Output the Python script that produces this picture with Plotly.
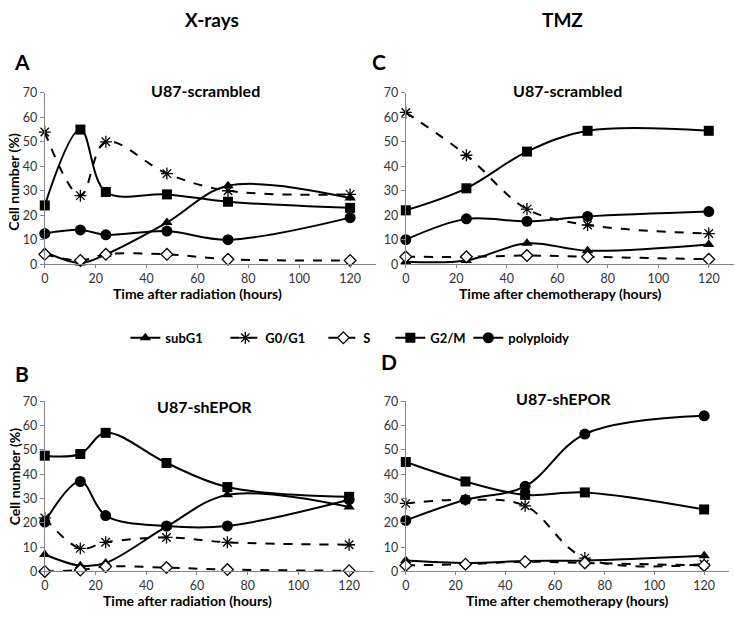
import plotly.graph_objects as go

# ---------------- data ----------------
series_names = ["subG1", "G0/G1", "S", "G2/M", "polyploidy"]

xray_hours = [0, 14, 24, 48, 72, 120]
tmz_hours = [0, 24, 48, 72, 120]

# Panel A: X-rays, U87-scrambled
a_subG1 = [5, 0.5, 4, 17, 32, 27]
a_G0G1 = [54, 28, 50, 37, 30, 28.5]
a_S = [4, 1.5, 4, 4, 2, 1.5]
a_G2M = [24, 55, 29.5, 28.5, 25.5, 23]
a_poly = [12.5, 14, 12, 13.5, 10, 19]

# Panel B: X-rays, U87-shEPOR
b_subG1 = [7, 2.4, 3.5, 18.4, 31.5, 26.5]
b_G0G1 = [22, 9.5, 12, 14, 12, 11]
b_S = [0, 0.6, 2, 1.6, 0.8, 0.3]
b_G2M = [47.6, 48.3, 57, 44.6, 34.7, 30.7]
b_poly = [20.3, 37, 23, 18.7, 18.7, 29.5]

# Panel C: TMZ, U87-scrambled
c_subG1 = [1, 1.5, 8.5, 5.5, 8]
c_G0G1 = [62, 44.5, 22.5, 16, 12.5]
c_S = [3, 3, 3.5, 3, 2]
c_G2M = [22, 31, 46, 54.5, 54.5]
c_poly = [10, 18.5, 17.5, 19.5, 21.5]

# Panel D: TMZ, U87-shEPOR
d_subG1 = [4.5, 3.5, 4.3, 4.5, 6.5]
d_G0G1 = [28, 29.5, 27, 5.5, 3]
d_S = [2.5, 3, 4, 3.5, 2.5]
d_G2M = [45, 37, 31.5, 32.5, 25.5]
d_poly = [21, 29.5, 35, 56.5, 64]

y_ticks = [0, 10, 20, 30, 40, 50, 60, 70]
x_ticks = [0, 20, 40, 60, 80, 100, 120]

# ---------------- styles ----------------
styles = {
    "subG1": dict(symbol="triangle-up", dash="solid", size=10, lw=55),
    "G0/G1": dict(symbol="asterisk-open", dash="dash", size=10, lw=53),
    "S": dict(symbol="diamond-open", dash="dash", size=9, lw=22),
    "G2/M": dict(symbol="square", dash="solid", size=10, lw=33),
    "polyploidy": dict(symbol="circle", dash="solid", size=11, lw=72),
}

FONT = "Lato, 'Open Sans', sans-serif"
W, H = 735, 618

def px(x):
    return x / W

def py(y):
    return 1 - y / H

fig = go.Figure()

panels = [
    ("x", "y", xray_hours, [a_subG1, a_G0G1, a_S, a_G2M, a_poly], True),
    ("x2", "y2", tmz_hours, [c_subG1, c_G0G1, c_S, c_G2M, c_poly], False),
    ("x3", "y3", xray_hours, [b_subG1, b_G0G1, b_S, b_G2M, b_poly], False),
    ("x4", "y4", tmz_hours, [d_subG1, d_G0G1, d_S, d_G2M, d_poly], False),
]

for xa, ya, hours, vals, show in panels:
    for name, v in zip(series_names, vals):
        st = styles[name]
        if st["symbol"] == "diamond-open":
            marker = dict(symbol="diamond", size=st["size"], color="white",
                          line=dict(color="black", width=1.3))
        elif st["symbol"] == "asterisk-open":
            marker = dict(symbol="asterisk-open", size=st["size"], color="black",
                          line=dict(color="black", width=1.3))
        else:
            marker = dict(symbol=st["symbol"], size=st["size"], color="black",
                          line=dict(color="black", width=0))
        fig.add_trace(go.Scatter(
            x=hours, y=v, name=name, xaxis=xa, yaxis=ya,
            mode="lines+markers",
            line=dict(color="black", width=2, dash=st["dash"], shape="spline", smoothing=1),
            marker=marker, cliponaxis=False,
            showlegend=show, legendwidth=st["lw"],
        ))

def xaxis(domain, anchor):
    return dict(domain=domain, anchor=anchor, range=[0, 130], tickvals=x_ticks,
                showgrid=False, zeroline=False, showline=True, linecolor="#868686",
                linewidth=1, ticks="outside", ticklen=3, tickcolor="#868686",
                tickfont=dict(family=FONT, size=12.5, color="#333"))

def yaxis(domain, anchor):
    return dict(domain=domain, anchor=anchor, range=[0, 70], tickvals=y_ticks,
                showgrid=False, zeroline=False, showline=True, linecolor="#868686",
                linewidth=1, ticks="outside", ticklen=4, tickcolor="#868686",
                tickfont=dict(family=FONT, size=12.5, color="#333"))

top_y = [1 - 262.5 / H, 1 - 87 / H]
bot_y = [1 - 577.5 / H, 1 - 403 / H]

fig.update_layout(
    width=W, height=H,
    margin=dict(l=0, r=0, t=0, b=0),
    paper_bgcolor="white", plot_bgcolor="white",
    xaxis=xaxis([41 / W, 373.6 / W], "y"),
    yaxis=yaxis(top_y, "x"),
    xaxis2=xaxis([404 / W, 734 / W], "y2"),
    yaxis2=yaxis(top_y, "x2"),
    xaxis3=xaxis([41 / W, 372.5 / W], "y3"),
    yaxis3=yaxis(bot_y, "x3"),
    xaxis4=xaxis([404 / W, 729 / W], "y4"),
    yaxis4=yaxis(bot_y, "x4"),
    showlegend=True,
    legend=dict(orientation="h", x=px(122), y=py(338), xanchor="left", yanchor="middle",
                font=dict(family=FONT, size=13, color="black", weight="bold"),
                bgcolor="rgba(0,0,0,0)"),
)

ann = []
def add_text(text, x, y, size, angle=0):
    ann.append(dict(text=text, x=px(x), y=py(y), xref="paper", yref="paper",
                    xanchor="center", yanchor="middle", showarrow=False, textangle=angle,
                    font=dict(family=FONT, size=size, color="black", weight="bold")))

add_text("X-rays", 209, 12, 19)
add_text("TMZ", 562, 12, 19)
add_text("A", 18, 55, 21)
add_text("C", 377, 55, 21)
add_text("B", 18, 375, 21)
add_text("D", 387, 362, 21)
add_text("U87-scrambled", 203, 85, 16)
add_text("U87-scrambled", 567, 85, 16)
add_text("U87-shEPOR", 202, 408, 16)
add_text("U87-shEPOR", 563, 400, 16)
add_text("Time after radiation (hours)", 195, 293, 14)
add_text("Time after chemotherapy (hours)", 560, 293, 14)
add_text("Time after radiation (hours)", 185, 607, 14)
add_text("Time after chemotherapy (hours)", 567, 607, 14)
add_text("Cell number (%)", 10, 178, 14, -90)
add_text("Cell number (%)", 10, 480, 14, -90)
fig.update_layout(annotations=ann)

fig.write_html("out.html", config={"displayModeBar": False},
               post_script="document.body.style.margin='0';")
